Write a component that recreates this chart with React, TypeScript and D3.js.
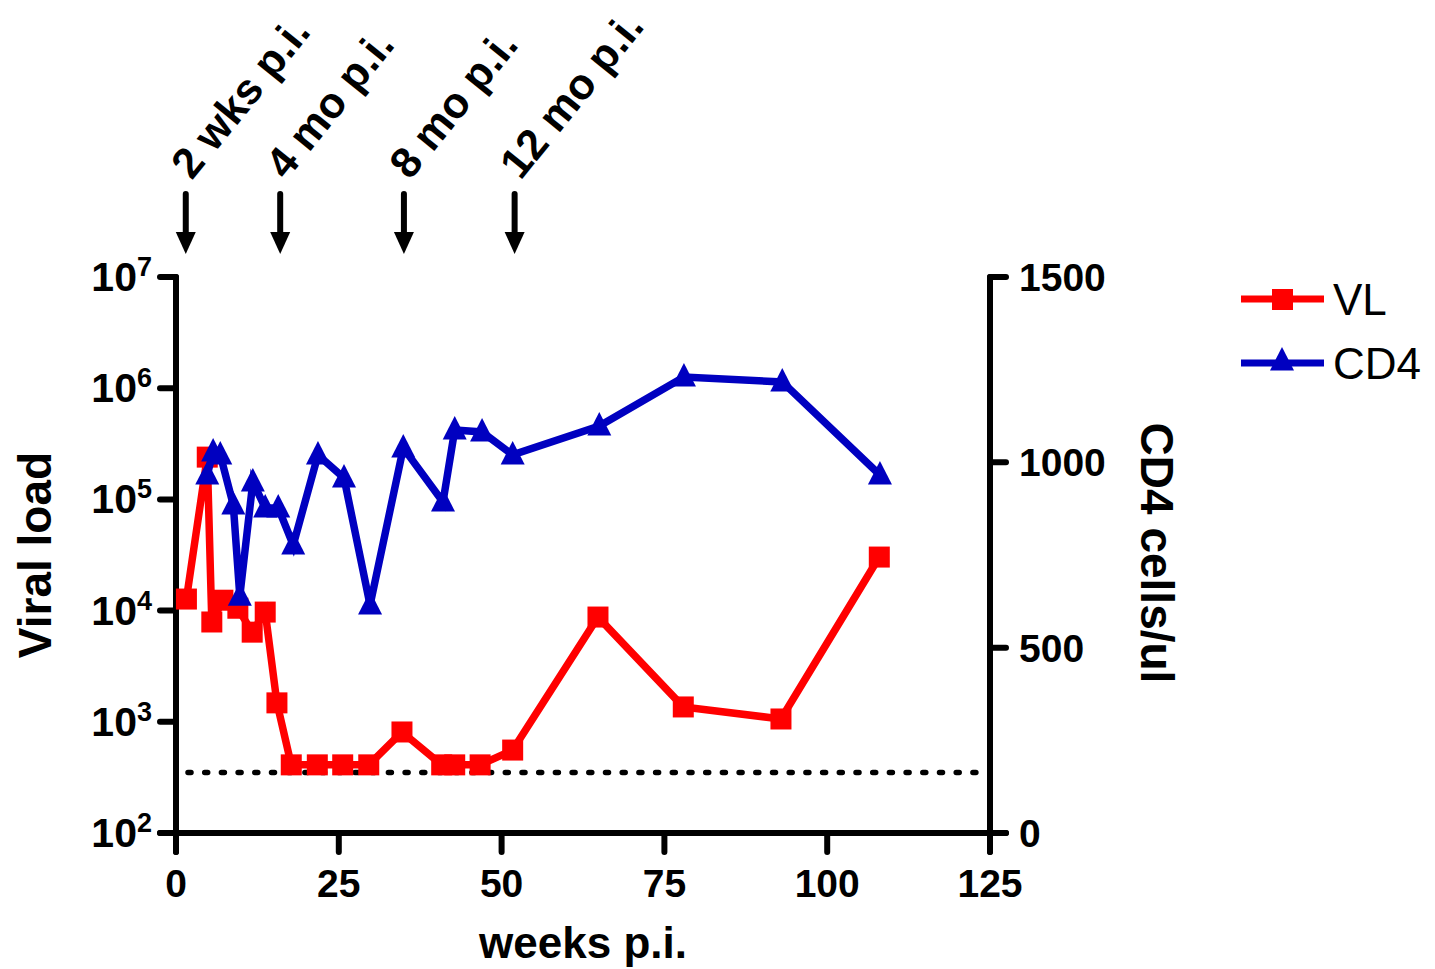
import React from "react";
import * as d3 from "d3";

const weeksVL = [1.6, 4.8, 5.5, 7.2, 9.5, 11.7, 13.7, 15.5, 17.7, 21.7, 25.6, 29.6, 34.7, 40.8, 42.8, 46.7, 51.7, 64.8, 77.9, 92.9, 108.0];
const viralLoad = [12700, 240000, 7900, 12400, 10500, 6400, 9700, 1480, 410, 410, 410, 410, 810, 410, 410, 410, 557, 8750, 1360, 1060, 30300];

const weeksCD4 = [4.8, 5.7, 6.8, 8.8, 9.8, 11.8, 13.7, 15.7, 18.0, 21.8, 25.8, 29.8, 34.9, 41.0, 42.8, 47.0, 51.7, 65.0, 78.0, 93.1, 108.1];
const cd4 = [966, 1028, 1020, 885, 639, 947, 877, 877, 777, 1020, 958, 615, 1039, 893, 1087, 1082, 1020, 1098, 1230, 1217, 966];

const xTicks = [0, 25, 50, 75, 100, 125];
const leftExps = [2, 3, 4, 5, 6, 7];
const rightTicks = [0, 500, 1000, 1500];
const detectionLimit = 350;

const arrowWeeks = [1.5, 16, 35, 52];
const arrowLabels = ["2 wks p.i.", "4 mo p.i.", "8 mo p.i.", "12 mo p.i."];

const legendItems = ["VL", "CD4"];

const RED = "#FF0000";
const BLUE = "#0000C0";
const FONT = "'Liberation Sans', Arial, Helvetica, sans-serif";

export default function App() {
  const x = d3.scaleLinear().domain([0, 125]).range([176, 990]);
  const yL = d3.scaleLog().domain([1e2, 1e7]).range([833, 277]);
  const yR = d3.scaleLinear().domain([0, 1500]).range([833, 277]);

  const vlPts: [number, number][] = weeksVL.map((w, i) => [x(w), yL(viralLoad[i])]);
  const cdPts: [number, number][] = weeksCD4.map((w, i) => [x(w), yR(cd4[i])]);
  const line = d3.line();

  const tri = (cx: number, cy: number) =>
    `M${cx},${cy - 14} L${cx + 12},${cy + 9.5} L${cx - 12},${cy + 9.5} Z`;

  const axisStroke = { stroke: "#000", strokeWidth: 6, strokeLinecap: "round" as const };

  return (
    <svg width={1435} height={969} style={{ position: "absolute", left: 0, top: 0, background: "#fff" }} fontFamily={FONT}>
      {/* dotted detection limit */}
      <line x1={188} x2={988} y1={yL(detectionLimit)} y2={yL(detectionLimit)} stroke="#000" strokeWidth={5.5} strokeLinecap="round" strokeDasharray="3 13.7" />

      {/* axes */}
      <line x1={x(0)} x2={x(0)} y1={yL(1e7)} y2={852} {...axisStroke} />
      <line x1={x(125)} x2={x(125)} y1={yR(1500)} y2={852} {...axisStroke} />
      <line x1={x(0) - 16} x2={x(125) + 16} y1={833} y2={833} {...axisStroke} />
      {xTicks.map((t) => (
        <g key={"x" + t}>
          <line x1={x(t)} x2={x(t)} y1={833} y2={852} {...axisStroke} />
          <text x={x(t)} y={897} textAnchor="middle" fontSize={39} fontWeight="bold">{t}</text>
        </g>
      ))}
      {leftExps.map((e) => (
        <g key={"l" + e}>
          <line x1={x(0) - 16} x2={x(0)} y1={yL(Math.pow(10, e))} y2={yL(Math.pow(10, e))} {...axisStroke} />
          <text x={152} y={yL(Math.pow(10, e)) + 14} textAnchor="end" fontSize={41} fontWeight="bold">
            10<tspan fontSize={27} dy={-15}>{e}</tspan>
          </text>
        </g>
      ))}
      {rightTicks.map((t) => (
        <g key={"r" + t}>
          <line x1={x(125)} x2={x(125) + 16} y1={yR(t)} y2={yR(t)} {...axisStroke} />
          <text x={1019} y={yR(t) + 14} textAnchor="start" fontSize={39} fontWeight="bold">{t}</text>
        </g>
      ))}

      {/* axis titles */}
      <text transform="translate(51,555) rotate(-90)" textAnchor="middle" fontSize={46} fontWeight="bold">Viral load</text>
      <text transform="translate(1141,553) rotate(90)" textAnchor="middle" fontSize={46} fontWeight="bold">CD4 cells/ul</text>
      <text x={583} y={958} textAnchor="middle" fontSize={44} fontWeight="bold">weeks p.i.</text>

      {/* arrows and labels */}
      {arrowWeeks.map((w, i) => {
        const ax = x(w);
        return (
          <g key={"a" + i}>
            <line x1={ax} x2={ax} y1={194} y2={236} stroke="#000" strokeWidth={6} strokeLinecap="round" />
            <path d={`M${ax - 10},${232} L${ax + 10},${232} L${ax},${254} Z`} fill="#000" />
            <text transform={`translate(${ax + 6},${181}) rotate(-51)`} fontSize={43} fontWeight="bold">{arrowLabels[i]}</text>
          </g>
        );
      })}

      {/* VL series */}
      <path d={line(vlPts) || ""} fill="none" stroke={RED} strokeWidth={7.5} strokeLinejoin="miter" />
      {vlPts.map(([px, py], i) => (
        <rect key={"v" + i} x={px - 10.5} y={py - 10.5} width={21} height={21} fill={RED} />
      ))}

      {/* CD4 series */}
      <path d={line(cdPts) || ""} fill="none" stroke={BLUE} strokeWidth={7.5} strokeLinejoin="miter" />
      {cdPts.map(([px, py], i) => (
        <path key={"c" + i} d={tri(px, py)} fill={BLUE} />
      ))}

      {/* legend */}
      {legendItems.map((name, i) => {
        const ly = 299 + i * 64;
        const col = i === 0 ? RED : BLUE;
        return (
          <g key={"lg" + i}>
            <line x1={1241} x2={1324} y1={ly} y2={ly} stroke={col} strokeWidth={7} />
            {i === 0 ? (
              <rect x={1272} y={ly - 10} width={21} height={21} fill={col} />
            ) : (
              <path d={tri(1282, ly - 2)} fill={col} />
            )}
            <text x={1333} y={ly + 16} fontSize={44}>{name}</text>
          </g>
        );
      })}
    </svg>
  );
}
